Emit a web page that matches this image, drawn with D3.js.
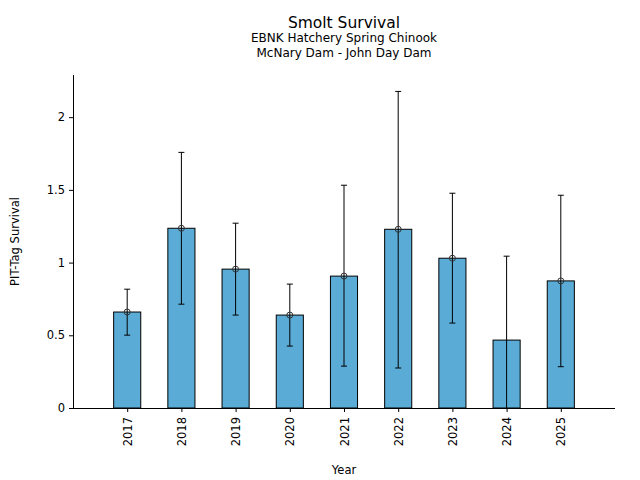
<!DOCTYPE html>
<html lang="en">
<head>
    <meta charset="UTF-8">
    <title>Smolt Survival</title>
    <script src="https://d3js.org/d3.v7.min.js"></script>
    <style>
        body {
            margin: 0;
            font-family: "DejaVu Sans", sans-serif;
            background: #fff;
        }
    </style>
</head>
<body>
    <div id="chart"></div>
    <script>
        // Data
        const years = [2017, 2018, 2019, 2020, 2021, 2022, 2023, 2024, 2025];
        const survival = [0.66, 1.236, 0.955, 0.639, 0.907, 1.229, 1.030, 0.467, 0.874];
        const upper = [0.817, 1.758, 1.271, 0.852, 1.532, 2.177, 1.477, 1.044, 1.463];
        const lower = [0.501, 0.714, 0.639, 0.426, 0.288, 0.275, 0.584, -0.2, 0.284];
        // 2024 has no point marker in the reference
        const showMarker = [true, true, true, true, true, true, true, false, true];
        const yTicks = [0, 0.5, 1, 1.5, 2];

        const width = 640, height = 480;
        const margin = { top: 75, right: 25, bottom: 72, left: 73 };
        const innerW = width - margin.left - margin.right;
        const innerH = height - margin.top - margin.bottom;

        const svg = d3.select("#chart")
            .append("svg")
            .attr("width", width)
            .attr("height", height);

        const g = svg.append("g")
            .attr("transform", `translate(${margin.left},${margin.top})`);

        const x = d3.scaleLinear()
            .domain([years[0] - 1, years[years.length - 1] + 1])
            .range([0, innerW]);

        const y = d3.scaleLinear()
            .domain([0, 2.29])
            .range([innerH, 0]);

        const barW = x(years[0] + 0.5) - x(years[0]);

        g.append("clipPath")
            .attr("id", "plot-clip")
            .append("rect")
            .attr("width", innerW)
            .attr("height", innerH);

        const rows = years.map((yr, i) => ({
            year: yr, value: survival[i], hi: upper[i], lo: lower[i], marker: showMarker[i]
        }));

        // Bars
        g.selectAll(".bar")
            .data(rows)
            .enter()
            .append("rect")
            .attr("class", "bar")
            .attr("x", d => x(d.year) - barW / 2)
            .attr("y", d => y(d.value))
            .attr("width", barW)
            .attr("height", d => y(0) - y(d.value))
            .style("fill", "#5aacd6")
            .style("stroke", "#000")
            .style("stroke-width", 1);

        // Error bars
        const err = g.append("g").attr("clip-path", "url(#plot-clip)");
        err.selectAll(".err")
            .data(rows)
            .enter()
            .append("line")
            .attr("x1", d => x(d.year))
            .attr("x2", d => x(d.year))
            .attr("y1", d => y(d.hi))
            .attr("y2", d => y(d.lo))
            .style("stroke", "#000")
            .style("stroke-width", 1);

        const caps = rows.flatMap(d => [d.hi, d.lo].map(v => ({ year: d.year, v })));
        err.selectAll(".cap")
            .data(caps)
            .enter()
            .append("line")
            .attr("x1", d => x(d.year) - 3)
            .attr("x2", d => x(d.year) + 3)
            .attr("y1", d => y(d.v))
            .attr("y2", d => y(d.v))
            .style("stroke", "#000")
            .style("stroke-width", 1);

        // Point markers
        g.selectAll(".pt")
            .data(rows.filter(d => d.marker))
            .enter()
            .append("circle")
            .attr("cx", d => x(d.year))
            .attr("cy", d => y(d.value))
            .attr("r", 3)
            .style("fill", "none")
            .style("stroke", "#333")
            .style("stroke-width", 1);

        // Axes
        const yAxis = g.append("g")
            .call(d3.axisLeft(y).tickValues(yTicks).tickFormat(d3.format("~g")).tickSize(4).tickPadding(4));

        const xAxis = g.append("g")
            .attr("transform", `translate(0,${innerH})`)
            .call(d3.axisBottom(x).tickValues(years).tickFormat(d3.format("d")).tickSize(4).tickPadding(4));

        [yAxis, xAxis].forEach(a => {
            a.select(".domain").attr("stroke", "#000").attr("stroke-width", 1);
            a.selectAll(".tick line").attr("stroke", "#000");
            a.selectAll("text")
                .attr("fill", "#000")
                .style("font-family", "DejaVu Sans")
                .style("font-size", "11.5px");
        });
        yAxis.select(".domain").attr("d", `M0.5,${innerH}V0`);
        xAxis.select(".domain").attr("d", `M0,0.5H${innerW}`);

        xAxis.selectAll("text")
            .attr("transform", "rotate(-90)")
            .attr("x", -9)
            .attr("y", 0)
            .attr("dy", "0.35em")
            .style("text-anchor", "end");

        // Titles and labels
        const cx = margin.left + innerW / 2;
        svg.append("text")
            .attr("x", cx).attr("y", 28)
            .attr("text-anchor", "middle")
            .style("font-size", "15.5px")
            .text("Smolt Survival");
        svg.append("text")
            .attr("x", cx).attr("y", 42)
            .attr("text-anchor", "middle")
            .style("font-size", "12px")
            .text("EBNK Hatchery Spring Chinook");
        svg.append("text")
            .attr("x", cx).attr("y", 57)
            .attr("text-anchor", "middle")
            .style("font-size", "12px")
            .text("McNary Dam - John Day Dam");

        svg.append("text")
            .attr("x", cx).attr("y", 474)
            .attr("text-anchor", "middle")
            .style("font-size", "11.5px")
            .text("Year");

        svg.append("text")
            .attr("transform", `translate(19,${margin.top + innerH / 2}) rotate(-90)`)
            .attr("text-anchor", "middle")
            .style("font-size", "11.5px")
            .text("PIT-Tag Survival");
    </script>
</body>
</html>
